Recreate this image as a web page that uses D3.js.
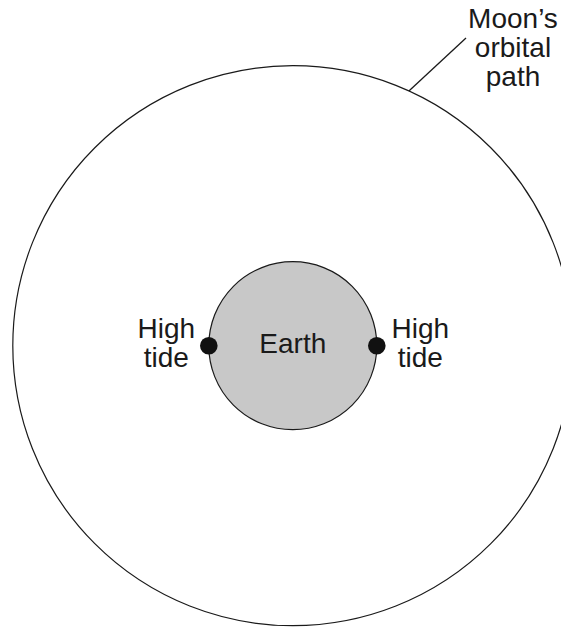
<!DOCTYPE html>
<html>
<head>
<meta charset="utf-8">
<script src="https://cdn.jsdelivr.net/npm/d3@7"></script>
<style>
  html, body { margin: 0; padding: 0; background: #fff; }
  svg { display: block; }
  text { font-family: "Liberation Sans", Arial, Helvetica, sans-serif; fill: #1a1a1a; }
</style>
</head>
<body>
<svg id="chart" width="561" height="627"></svg>
<script>
// Diagram data (units: Moon's orbital radius = 1)
const bodyNames = ["Moon's orbital path", "Earth"];
const bodyRadii = [1, 0.3];
const tideAngles = [180, 0];           // degrees around Earth
const tideLabels = [["High", "tide"], ["High", "tide"]];
const orbitLabel = ["Moon\u2019s", "orbital", "path"];
const earthLabel = "Earth";

const svg = d3.select("#chart");
const W = 561, H = 627;
const cx = 292.8, cy = 345.7;

// scale from diagram units to pixels
const r = d3.scaleLinear().domain([0, 1]).range([0, 280]);

const g = svg.append("g").attr("transform", `translate(${cx},${cy})`);

// Moon's orbit
g.append("circle")
  .attr("r", r(bodyRadii[0]))
  .attr("fill", "none")
  .attr("stroke", "#1a1a1a")
  .attr("stroke-width", 1.2);

// Earth
g.append("circle")
  .attr("r", r(bodyRadii[1]))
  .attr("fill", "#c8c8c8")
  .attr("stroke", "#1a1a1a")
  .attr("stroke-width", 1.2);

g.append("text")
  .attr("x", 0).attr("y", 7.5)
  .attr("text-anchor", "middle")
  .attr("font-size", 28)
  .text(earthLabel);

// High tide dots and labels
tideAngles.forEach((a, i) => {
  const rad = a * Math.PI / 180;
  const x = r(bodyRadii[1]) * Math.cos(rad);
  const y = -r(bodyRadii[1]) * Math.sin(rad);
  g.append("circle")
    .attr("cx", x).attr("cy", y)
    .attr("r", 8.8)
    .attr("fill", "#111");
  const lx = x + (Math.cos(rad) >= 0 ? 43.5 : -42.5);
  const t = g.append("text")
    .attr("text-anchor", "middle")
    .attr("font-size", 28);
  tideLabels[i].forEach((s, j) => {
    t.append("tspan").attr("x", lx).attr("y", -7.7 + j * 29).text(s);
  });
});

// Pointer line from orbit to label
const pAngle = 65.5 * Math.PI / 180;
const px = r(bodyRadii[0]) * Math.cos(pAngle);
const py = -r(bodyRadii[0]) * Math.sin(pAngle);
g.append("line")
  .attr("x1", px).attr("y1", py)
  .attr("x2", 466 - cx).attr("y2", 38 - cy)
  .attr("stroke", "#1a1a1a")
  .attr("stroke-width", 1.3);

const ot = svg.append("text")
  .attr("text-anchor", "middle")
  .attr("font-size", 28);
orbitLabel.forEach((s, j) => {
  ot.append("tspan").attr("x", 513).attr("y", 27.5 + j * 29).text(s);
});
</script>
</body>
</html>
